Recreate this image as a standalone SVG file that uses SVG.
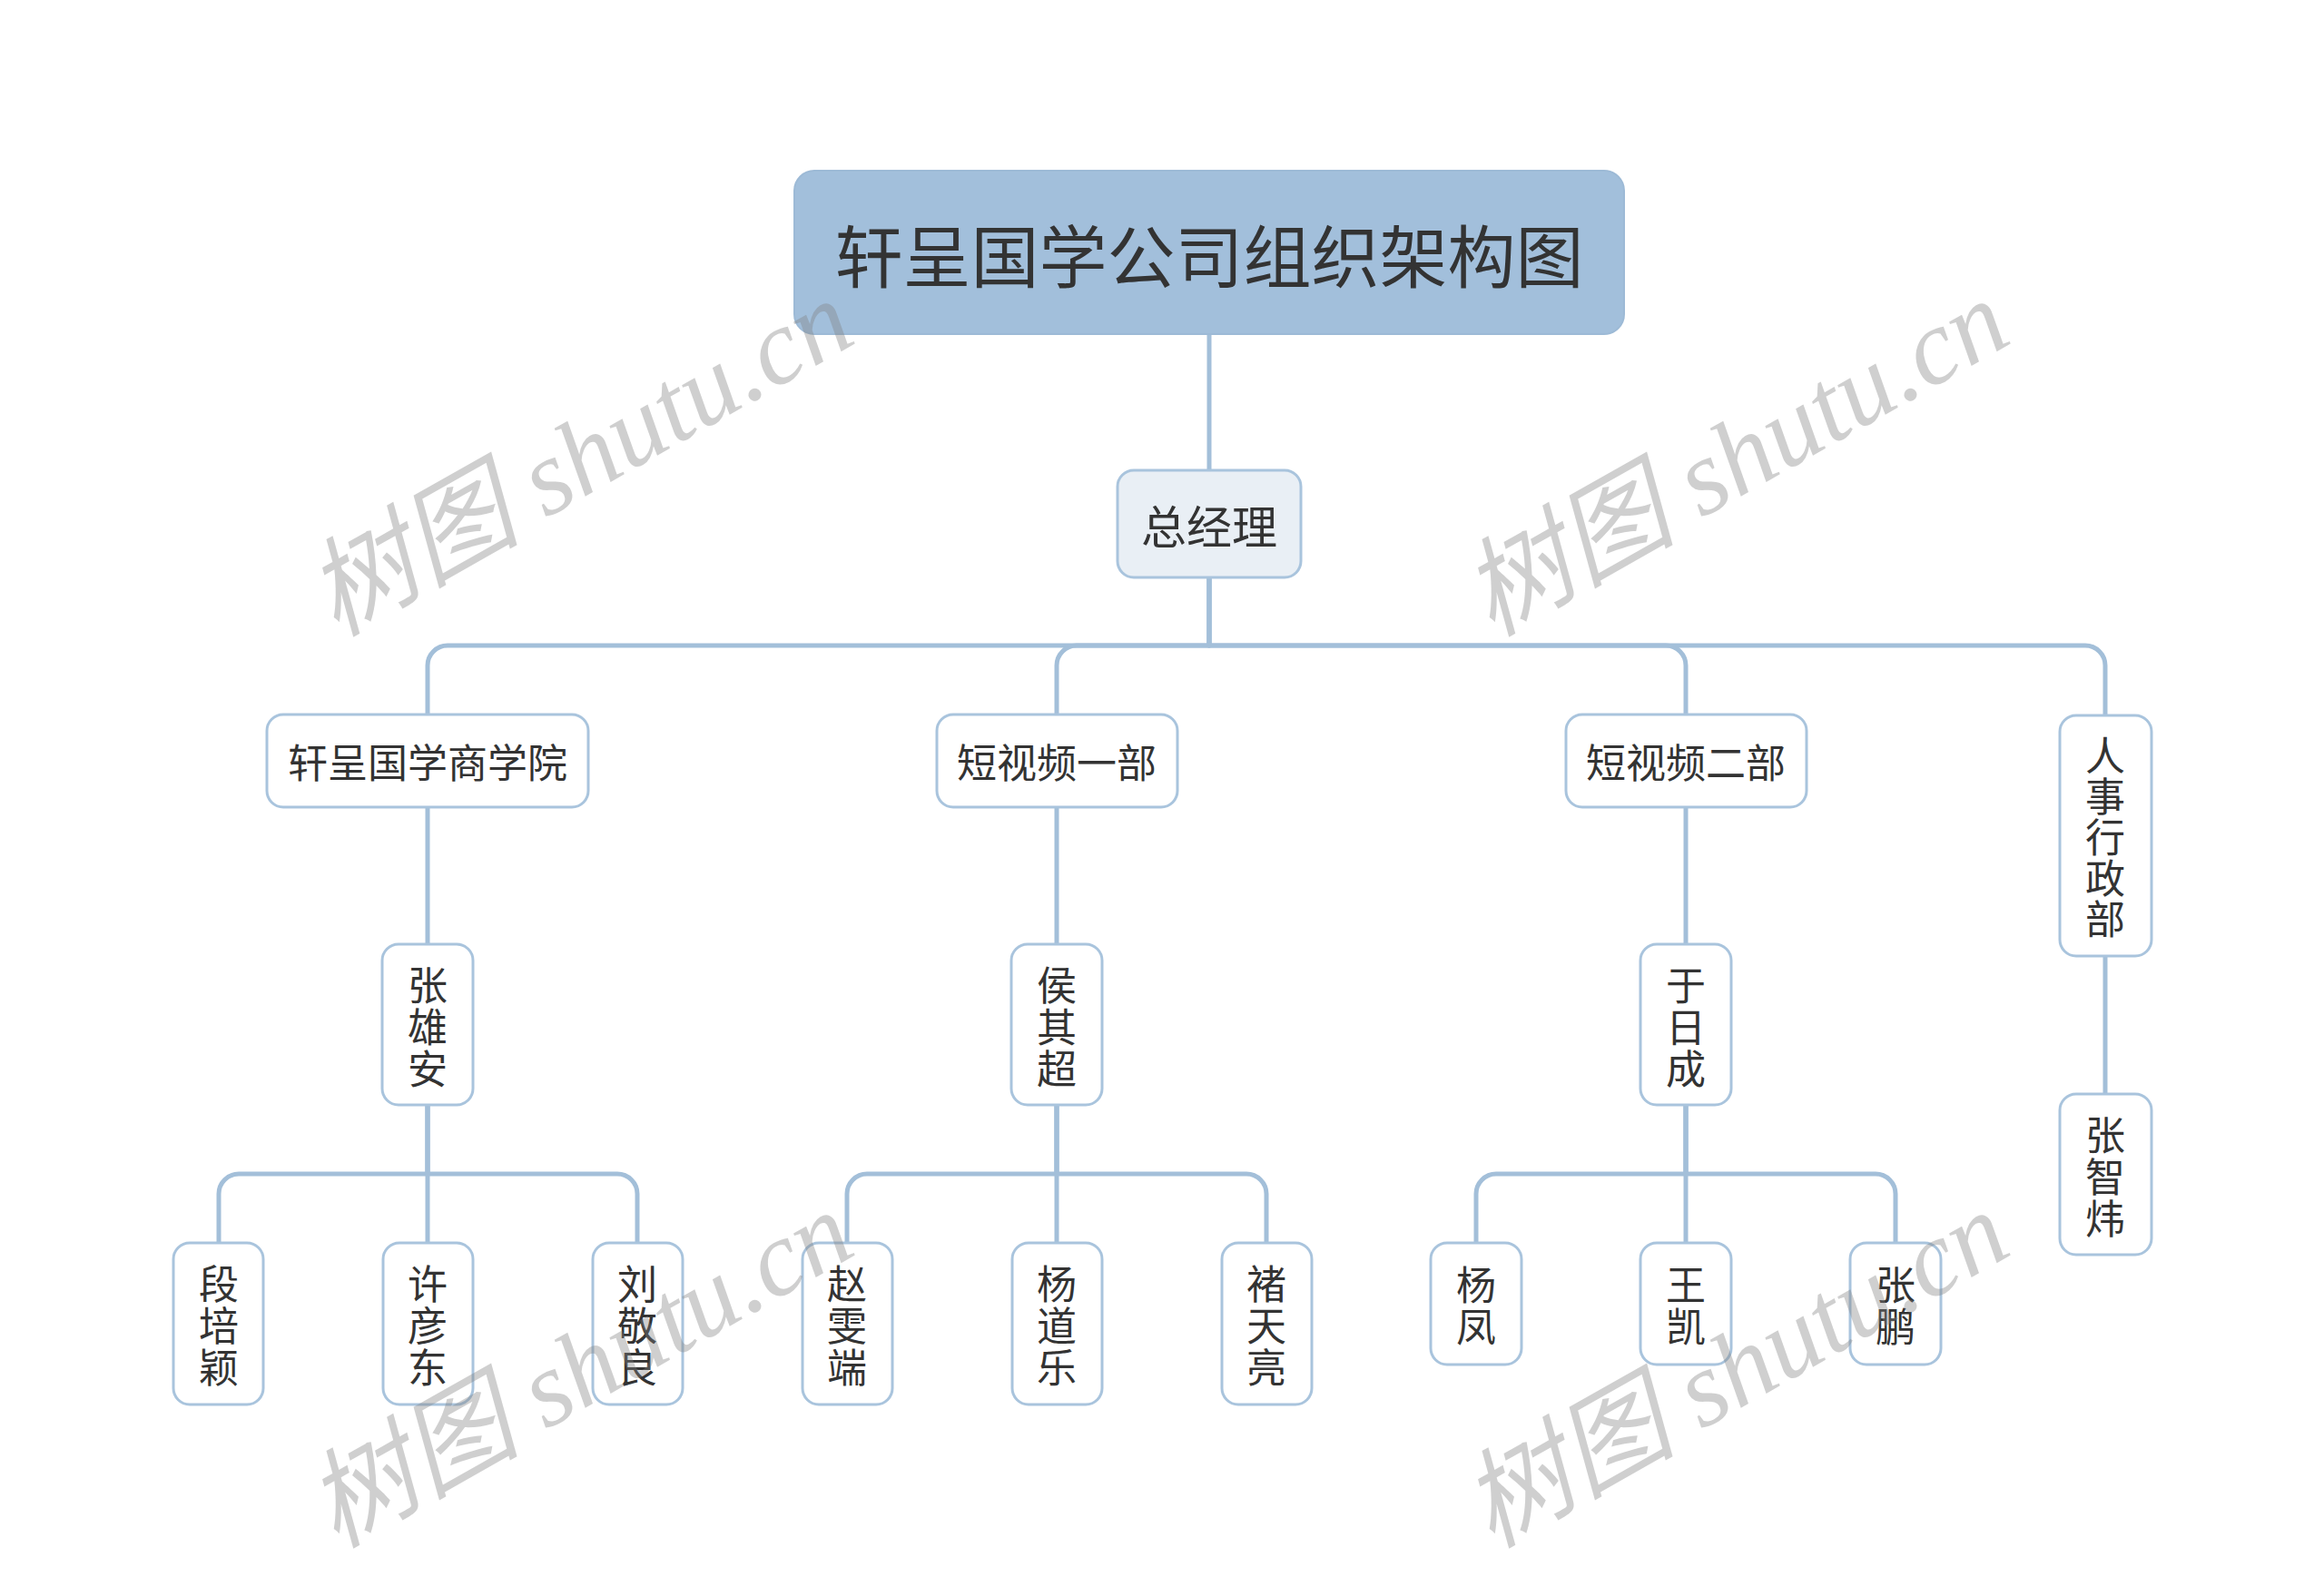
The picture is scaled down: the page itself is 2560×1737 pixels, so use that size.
<svg xmlns="http://www.w3.org/2000/svg" width="2560" height="1737" viewBox="0 0 2560 1737">
<style>
.bg{fill:#ffffff}
.ln{fill:none;stroke:#a3bfd9;stroke-width:5;stroke-linecap:round;stroke-linejoin:round}
.nd{fill:#ffffff;stroke:#a9c4dd;stroke-width:3}
.gm{fill:#e9eff5;stroke:#a9c4dd;stroke-width:3}
.rt{fill:#a2bfdb;stroke:#9dbad6;stroke-width:2}
.t{font-family:"Noto Sans CJK SC","Noto Sans",sans-serif;fill:#333333;text-anchor:middle;dominant-baseline:central}
.t44{font-size:44px}
.wm{font-family:"Liberation Serif","Noto Sans CJK SC",serif;font-style:italic;font-size:118px;fill:#808080;fill-opacity:0.38}
</style>
<rect class="bg" x="0" y="0" width="2560" height="1737"/>
<g id="connectors">
<path class="ln" d="M1332 368 V518"/>
<path class="ln" d="M1332 636 V711 H493 A22 22 0 0 0 471 733 V787"/>
<path class="ln" d="M1332 636 V711 H1186 A22 22 0 0 0 1164 733 V787"/>
<path class="ln" d="M1332 636 V711 H1835 A22 22 0 0 1 1857 733 V787"/>
<path class="ln" d="M1332 636 V711 H2297 A22 22 0 0 1 2319 733 V788"/>
<path class="ln" d="M471 889 V1040"/>
<path class="ln" d="M1164 889 V1040"/>
<path class="ln" d="M1857 889 V1040"/>
<path class="ln" d="M2319 1053 V1205"/>
<path class="ln" d="M471 1217 V1293 H263 A22 22 0 0 0 241 1315 V1369"/>
<path class="ln" d="M471 1217 V1369"/>
<path class="ln" d="M471 1217 V1293 H680 A22 22 0 0 1 702 1315 V1369"/>
<path class="ln" d="M1164 1217 V1293 H955 A22 22 0 0 0 933 1315 V1369"/>
<path class="ln" d="M1164 1217 V1369"/>
<path class="ln" d="M1164 1217 V1293 H1373 A22 22 0 0 1 1395 1315 V1369"/>
<path class="ln" d="M1857 1217 V1293 H1648 A22 22 0 0 0 1626 1315 V1369"/>
<path class="ln" d="M1857 1217 V1369"/>
<path class="ln" d="M1857 1217 V1293 H2066 A22 22 0 0 1 2088 1315 V1369"/>
</g>
<g id="root">
<rect class="rt" x="875" y="188" width="914" height="180" rx="22"/>
<text class="t" x="1332" y="278" font-size="75">轩呈国学公司组织架构图</text>
</g>
<g id="gm">
<rect class="gm" x="1231" y="518" width="202" height="118" rx="18"/>
<text class="t" x="1332" y="577" font-size="50">总经理</text>
</g>
<g id="d1">
<rect class="nd" x="294" y="787" width="354" height="102" rx="18"/>
<text class="t t44" x="471" y="838">轩呈国学商学院</text>
</g>
<g id="d2">
<rect class="nd" x="1032" y="787" width="265" height="102" rx="18"/>
<text class="t t44" x="1164" y="838">短视频一部</text>
</g>
<g id="d3">
<rect class="nd" x="1725" y="787" width="265" height="102" rx="18"/>
<text class="t t44" x="1857" y="838">短视频二部</text>
</g>
<g id="d4">
<rect class="nd" x="2269" y="788" width="101" height="265" rx="18"/>
<text class="t t44"><tspan x="2319" y="830">人</tspan><tspan x="2319" y="875">事</tspan><tspan x="2319" y="920">行</tspan><tspan x="2319" y="965">政</tspan><tspan x="2319" y="1010">部</tspan></text>
</g>
<g id="m1">
<rect class="nd" x="421" y="1040" width="100" height="177" rx="18"/>
<text class="t t44"><tspan x="471" y="1083">张</tspan><tspan x="471" y="1129">雄</tspan><tspan x="471" y="1175">安</tspan></text>
</g>
<g id="m2">
<rect class="nd" x="1114" y="1040" width="100" height="177" rx="18"/>
<text class="t t44"><tspan x="1164" y="1083">侯</tspan><tspan x="1164" y="1129">其</tspan><tspan x="1164" y="1175">超</tspan></text>
</g>
<g id="m3">
<rect class="nd" x="1807" y="1040" width="100" height="177" rx="18"/>
<text class="t t44"><tspan x="1857" y="1083">于</tspan><tspan x="1857" y="1129">日</tspan><tspan x="1857" y="1175">成</tspan></text>
</g>
<g id="m4">
<rect class="nd" x="2269" y="1205" width="101" height="177" rx="18"/>
<text class="t t44"><tspan x="2319" y="1248">张</tspan><tspan x="2319" y="1294">智</tspan><tspan x="2319" y="1340">炜</tspan></text>
</g>
<g id="l1">
<rect class="nd" x="191" y="1369" width="99" height="178" rx="18"/>
<text class="t t44"><tspan x="241" y="1412">段</tspan><tspan x="241" y="1458">培</tspan><tspan x="241" y="1504">颖</tspan></text>
</g>
<g id="l2">
<rect class="nd" x="422" y="1369" width="99" height="178" rx="18"/>
<text class="t t44"><tspan x="471" y="1412">许</tspan><tspan x="471" y="1458">彦</tspan><tspan x="471" y="1504">东</tspan></text>
</g>
<g id="l3">
<rect class="nd" x="653" y="1369" width="99" height="178" rx="18"/>
<text class="t t44"><tspan x="702" y="1412">刘</tspan><tspan x="702" y="1458">敬</tspan><tspan x="702" y="1504">良</tspan></text>
</g>
<g id="l4">
<rect class="nd" x="884" y="1369" width="99" height="178" rx="18"/>
<text class="t t44"><tspan x="933" y="1412">赵</tspan><tspan x="933" y="1458">雯</tspan><tspan x="933" y="1504">端</tspan></text>
</g>
<g id="l5">
<rect class="nd" x="1115" y="1369" width="99" height="178" rx="18"/>
<text class="t t44"><tspan x="1164" y="1412">杨</tspan><tspan x="1164" y="1458">道</tspan><tspan x="1164" y="1504">乐</tspan></text>
</g>
<g id="l6">
<rect class="nd" x="1346" y="1369" width="99" height="178" rx="18"/>
<text class="t t44"><tspan x="1395" y="1412">褚</tspan><tspan x="1395" y="1458">天</tspan><tspan x="1395" y="1504">亮</tspan></text>
</g>
<g id="l7">
<rect class="nd" x="1576" y="1369" width="100" height="134" rx="18"/>
<text class="t t44"><tspan x="1626" y="1413">杨</tspan><tspan x="1626" y="1459">凤</tspan></text>
</g>
<g id="l8">
<rect class="nd" x="1807" y="1369" width="100" height="134" rx="18"/>
<text class="t t44"><tspan x="1857" y="1413">王</tspan><tspan x="1857" y="1459">凯</tspan></text>
</g>
<g id="l9">
<rect class="nd" x="2038" y="1369" width="100" height="134" rx="18"/>
<text class="t t44"><tspan x="2088" y="1413">张</tspan><tspan x="2088" y="1459">鹏</tspan></text>
</g>
<g id="watermarks">
<text class="wm" transform="translate(370 702) rotate(-29.5)">树图 shutu.cn</text>
<text class="wm" transform="translate(1643 702) rotate(-29.5)">树图 shutu.cn</text>
<text class="wm" transform="translate(370 1706) rotate(-29.5)">树图 shutu.cn</text>
<text class="wm" transform="translate(1643 1706) rotate(-29.5)">树图 shutu.cn</text>
</g>
</svg>
